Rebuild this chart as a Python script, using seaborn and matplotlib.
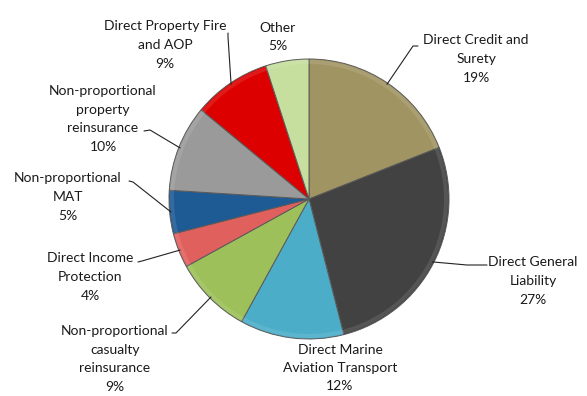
import matplotlib
matplotlib.use("Agg")
import matplotlib.pyplot as plt
import seaborn as sns
import numpy as np

categories = [
    "Direct Credit and\nSurety",
    "Direct General\nLiability",
    "Direct Marine\nAviation Transport",
    "Non-proportional\ncasualty\nreinsurance",
    "Direct Income\nProtection",
    "Non-proportional\nMAT",
    "Non-proportional\nproperty\nreinsurance",
    "Direct Property Fire\nand AOP",
    "Other",
]
shares = [19, 27, 12, 9, 4, 5, 10, 9, 5]
colors = ["#A09562", "#424242", "#4BADC8", "#9DC05A", "#E0605E",
          "#1E5A94", "#9A9A9A", "#DD0000", "#C6DE9E"]

sns.set_theme(style="white")
plt.rcParams["font.family"] = ["Lato", "DejaVu Sans"]

W, H = 587, 396
fig = plt.figure(figsize=(W / 100, H / 100), dpi=100)
ax = fig.add_axes([0, 0, 1, 1])

cx, cy, R = 309, H - 199, 140
wedges, _ = ax.pie(shares, colors=colors, startangle=90, counterclock=False,
                   center=(cx, cy), radius=R, frame=True,
                   wedgeprops=dict(edgecolor="#5a5a5a", linewidth=0.7))
# subtle bevel highlight near the rim
ax.pie(shares, colors=["white"] * len(shares), startangle=90, counterclock=False,
       center=(cx, cy), radius=R - 1, frame=True,
       wedgeprops=dict(width=4, alpha=0.1, linewidth=0))
ax.set_xlim(0, W)
ax.set_ylim(0, H)
ax.set_aspect("equal")
ax.axis("off")

# label layout (pixel positions, y measured from top)
text_pos = [(476, 59), (533, 281), (340, 368), (115, 359), (90, 277),
            (68, 197), (103, 119), (165, 45), (278, 37)]
elbows = [[(418, 46), (413, 46)],
          [(487, 265), (467, 265)],
          None,
          [(172, 333), (176, 333)],
          [(138, 262), (142, 261)],
          [(129, 181), (133, 182)],
          [(144, 131), (150, 130)],
          [(228, 33), (228, 37)],
          None]

for w, lab, v, (tx, ty), el in zip(wedges, categories, shares, text_pos, elbows):
    ax.text(tx, H - ty, f"{lab}\n{v}%", ha="center", va="center",
            fontsize=10, color="#1a1a1a", linespacing=1.65)
    if el is not None:
        ang = np.deg2rad((w.theta1 + w.theta2) / 2)
        px, py = cx + 0.99 * R * np.cos(ang), cy + 0.99 * R * np.sin(ang)
        xs = [el[0][0], el[1][0], px]
        ys = [H - el[0][1], H - el[1][1], py]
        ax.plot(xs, ys, color="#222222", linewidth=0.8)

fig.savefig("out.png", dpi=100)
